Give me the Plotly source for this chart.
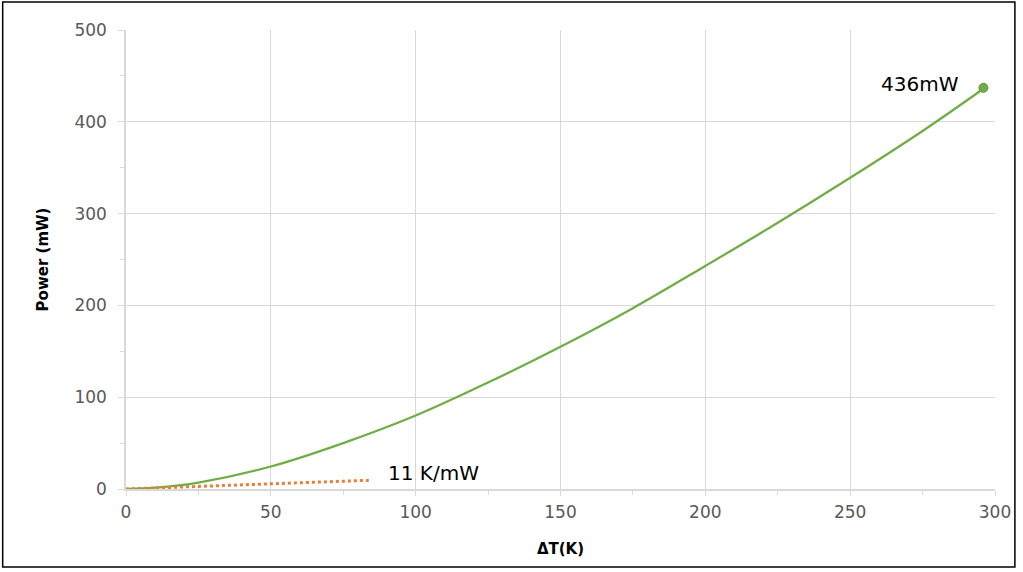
import plotly.graph_objects as go

# Data
delta_t = [0, 10, 25, 50, 75, 100, 125, 150, 175, 200, 225, 250, 275, 296]
power_mw = [0, 1.5, 7, 24.5, 50, 80, 116, 155, 197, 243, 290, 339, 390, 436]

fit_t = [0, 84]
fit_p = [0, 9.5]

end_t = [296]
end_p = [437]

x_ticks = [0, 50, 100, 150, 200, 250, 300]
y_ticks = [0, 100, 200, 300, 400, 500]

GREEN = "#70ad47"
ORANGE = "#ed7d31"
GRID = "#d9d9d9"
FONT = "DejaVu Sans, Verdana, sans-serif"

fig = go.Figure()
fig.add_trace(go.Scatter(x=delta_t, y=power_mw, mode="lines",
                         line=dict(color=GREEN, width=2.25, shape="spline", smoothing=1),
                         hoverinfo="x+y"))
fig.add_trace(go.Scatter(x=fit_t, y=fit_p, mode="lines",
                         line=dict(color=ORANGE, width=3, dash="dot")))
fig.add_trace(go.Scatter(x=end_t, y=end_p, mode="markers",
                         marker=dict(color=GREEN, size=9, line=dict(color="#5a9a35", width=1))))

fig.add_annotation(x=274, y=441, text="436mW", showarrow=False,
                   font=dict(family=FONT, size=20, color="#000000"))
fig.add_annotation(x=106, y=17, text="11 K/mW", showarrow=False,
                   font=dict(family=FONT, size=20, color="#000000"))

# Outer black border
fig.add_shape(type="rect", xref="paper", yref="paper",
              x0=-0.1419, x1=1.0229, y0=-0.1699, y1=1.061,
              line=dict(color="#000000", width=1.5), fillcolor="rgba(0,0,0,0)", layer="below")

fig.update_xaxes(range=[0, 300], tickvals=x_ticks, ticktext=[str(v) for v in x_ticks],
                 showgrid=True, gridcolor=GRID, gridwidth=1,
                 showline=True, linecolor=GRID, linewidth=1.5,
                 ticks="outside", ticklen=5, tickcolor=GRID,
                 minor=dict(dtick=25, ticks="outside", ticklen=4, tickcolor=GRID, showgrid=False),
                 zeroline=False, ticklabelstandoff=2,
                 tickfont=dict(family=FONT, size=17, color="#595959"),
                 title=dict(text="<b>ΔT(K)</b>", font=dict(family=FONT, size=15, color="#000000"),
                            standoff=22))
fig.update_yaxes(range=[0, 500], tickvals=y_ticks, ticktext=[str(v) for v in y_ticks],
                 showgrid=True, gridcolor=GRID, gridwidth=1,
                 showline=True, linecolor=GRID, linewidth=1.5,
                 ticks="outside", ticklen=6, tickcolor=GRID,
                 minor=dict(dtick=50, ticks="outside", ticklen=4, tickcolor=GRID, showgrid=False),
                 zeroline=False, ticklabelstandoff=8,
                 tickfont=dict(family=FONT, size=17, color="#595959"),
                 title=dict(text="<b>Power (mW)</b>", font=dict(family=FONT, size=15, color="#000000"),
                            standoff=22))

fig.update_layout(width=1023, height=572,
                  margin=dict(l=126, r=23, t=30, b=83),
                  paper_bgcolor="white", plot_bgcolor="white",
                  showlegend=False)

fig.write_html("out.html", config={"displayModeBar": False},
               post_script="document.body.style.margin='0';document.body.style.overflow='hidden';")
